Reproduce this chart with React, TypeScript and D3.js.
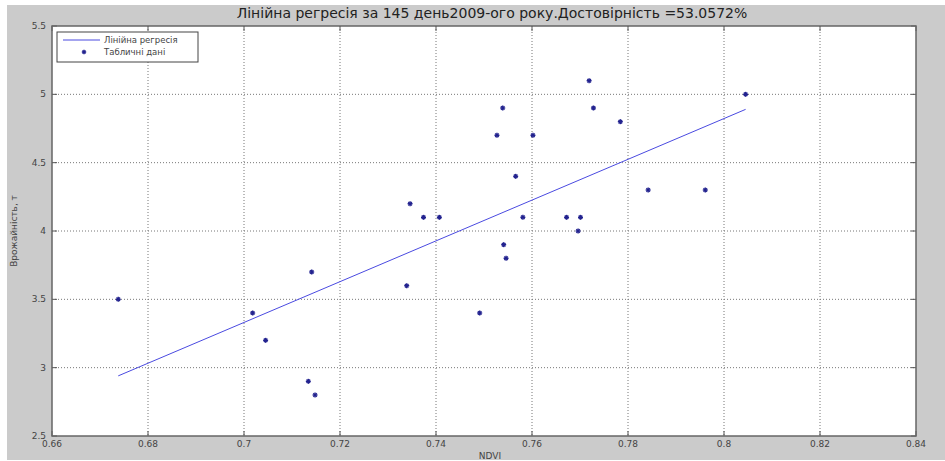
import React from "react";
import * as d3 from "d3";

const titleText = "Лінійна регресія за 145 день2009-ого року.Достовірність =53.0572%";
const xLabel = "NDVI";
const yLabel = "Врожайність, т";
const legendLabels = ["Лінійна регресія", "Табличні дані"];

const xTicks = [0.66, 0.68, 0.7, 0.72, 0.74, 0.76, 0.78, 0.8, 0.82, 0.84];
const yTicks = [2.5, 3, 3.5, 4, 4.5, 5, 5.5];
const xTickLabels = ["0.66", "0.68", "0.7", "0.72", "0.74", "0.76", "0.78", "0.8", "0.82", "0.84"];
const yTickLabels = ["2.5", "3", "3.5", "4", "4.5", "5", "5.5"];

const ndvi = [
  0.7719, 0.8045, 0.7539, 0.7728, 0.7784, 0.7527, 0.7602, 0.7566, 0.7842,
  0.7961, 0.7346, 0.7374, 0.7407, 0.7581, 0.7672, 0.7701, 0.7696, 0.7541,
  0.7546, 0.7339, 0.7491, 0.6738, 0.7141, 0.7018, 0.7045, 0.7134, 0.7148,
];
const yieldT = [
  5.1, 5.0, 4.9, 4.9, 4.8, 4.7, 4.7, 4.4, 4.3,
  4.3, 4.2, 4.1, 4.1, 4.1, 4.1, 4.1, 4.0, 3.9,
  3.8, 3.6, 3.4, 3.5, 3.7, 3.4, 3.2, 2.9, 2.8,
];
const regX = [0.6738, 0.8045];
const regY = [2.94, 4.89];

const W = 945;
const H = 461;
const L = 52, R = 916, T = 26, B = 436;

export default function App() {
  const x = d3.scaleLinear().domain([0.66, 0.84]).range([L, R]);
  const y = d3.scaleLinear().domain([2.5, 5.5]).range([B, T]);
  const line = d3.line<number>().x((d) => x(regX[d])).y((d) => y(regY[d]));
  const font = "'DejaVu Sans', Arial, sans-serif";
  const blue = "#23238f";
  const star = (cx: number, cy: number, s: number, key: any) => (
    <g key={key} stroke={blue} strokeWidth={1.4}>
      <line x1={cx - s} y1={cy} x2={cx + s} y2={cy} />
      <line x1={cx} y1={cy - s} x2={cx} y2={cy + s} />
      <line x1={cx - s * 0.7} y1={cy - s * 0.7} x2={cx + s * 0.7} y2={cy + s * 0.7} />
      <line x1={cx - s * 0.7} y1={cy + s * 0.7} x2={cx + s * 0.7} y2={cy - s * 0.7} />
    </g>
  );
  return (
    <svg width={W} height={H} style={{ position: "absolute", left: 0, top: 0 }} fontFamily={font}>
      <rect x={0} y={0} width={W} height={H} fill="#ffffff" />
      <rect x={7} y={5} width={W - 7} height={H - 6} fill="#cbcbcb" />
      <rect x={L} y={T} width={R - L} height={B - T} fill="#ffffff" />
      {xTicks.slice(1, -1).map((t, i) => (
        <line key={"gx" + i} x1={x(t)} x2={x(t)} y1={T} y2={B} stroke="#777" strokeWidth={1} strokeDasharray="1,2" />
      ))}
      {yTicks.slice(1, -1).map((t, i) => (
        <line key={"gy" + i} x1={L} x2={R} y1={y(t)} y2={y(t)} stroke="#777" strokeWidth={1} strokeDasharray="1,2" />
      ))}
      {xTicks.map((t, i) => (
        <g key={"tx" + i} stroke="#555">
          <line x1={x(t)} x2={x(t)} y1={B} y2={B - 5} />
          <line x1={x(t)} x2={x(t)} y1={T} y2={T + 5} />
        </g>
      ))}
      {yTicks.map((t, i) => (
        <g key={"ty" + i} stroke="#555">
          <line x1={L} x2={L + 5} y1={y(t)} y2={y(t)} />
          <line x1={R} x2={R - 5} y1={y(t)} y2={y(t)} />
        </g>
      ))}
      <rect x={L} y={T} width={R - L} height={B - T} fill="none" stroke="#666" strokeWidth={1.5} />
      <path d={line([0, 1]) || ""} fill="none" stroke="#4a4ae0" strokeWidth={1} />
      {ndvi.map((v, i) => star(x(v), y(yieldT[i]), 2.5, "p" + i))}
      {xTicks.map((t, i) => (
        <text key={"lx" + i} x={x(t)} y={447} fontSize={9} fill="#444" textAnchor="middle">{xTickLabels[i]}</text>
      ))}
      {yTicks.map((t, i) => (
        <text key={"ly" + i} x={46} y={y(t) + 3} fontSize={9} fill="#444" textAnchor="end">{yTickLabels[i]}</text>
      ))}
      <text x={490} y={459} fontSize={9} fill="#444" textAnchor="middle">{xLabel}</text>
      <text transform={`translate(17,${(T + B) / 2}) rotate(-90)`} fontSize={9} fill="#444" textAnchor="middle">{yLabel}</text>
      <text x={492} y={18} fontSize={14} fill="#222" textAnchor="middle">{titleText}</text>
      <rect x={57} y={32} width={141} height={30} fill="#fff" stroke="#444" strokeWidth={1} />
      <line x1={63} x2={100} y1={40} y2={40} stroke="#4a4ae0" strokeWidth={1} />
      <text x={104} y={43} fontSize={8.5} fill="#444">{legendLabels[0]}</text>
      {star(84, 52, 2.2, "leg")}
      <text x={104} y={55} fontSize={8.5} fill="#444">{legendLabels[1]}</text>
    </svg>
  );
}
